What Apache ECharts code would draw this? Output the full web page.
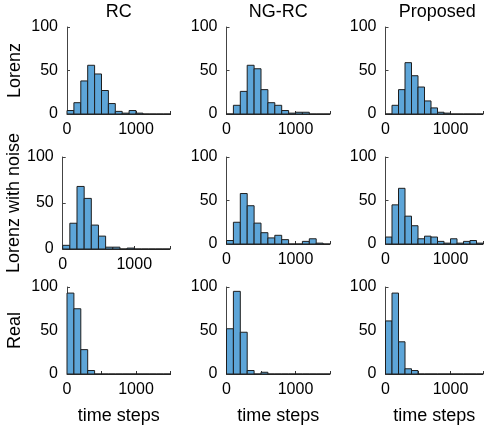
<!DOCTYPE html>
<html><head><meta charset="utf-8">
<script src="https://cdn.jsdelivr.net/npm/echarts@6/dist/echarts.min.js"></script>
<style>html,body{margin:0;padding:0;background:#fff}#c{width:486px;height:435px}</style>
</head><body><div id="c"></div>
<script>
// ---- data ----
const binEdges = [0,100,200,300,400,500,600,700,800,900,1000,1100,1200,1300,1400,1500];
const methods = ['RC', 'NG-RC', 'Proposed'];
const systems = ['Lorenz', 'Lorenz with noise', 'Real'];
const xLabel = 'time steps';
const xTickLabels = [0, 1000];
const yTickValues = [0, 50, 100];

const rcLorenz        = [4, 13, 38, 56, 46, 27, 12, 3, 1, 4, 1, 0, 0, 0, 0];
const ngrcLorenz      = [0, 10, 26, 56, 52, 28, 13, 10, 4, 1, 2, 2, 0, 0, 0];
const propLorenz      = [0, 10, 28, 59, 44, 31, 15, 7, 2, 1, 0, 0, 0, 0, 0];
const rcNoise         = [4, 28, 68, 55, 26, 14, 2, 2, 0, 1, 0, 0, 0, 0, 0];
const ngrcNoise       = [4, 25, 58, 44, 24, 13, 7, 10, 5, 0, 0, 3, 6, 1, 0];
const propNoise       = [8, 45, 64, 32, 21, 6, 9, 8, 3, 1, 6, 1, 3, 4, 1];
const rcReal          = [93, 75, 28, 4, 0, 0, 0, 0, 0, 0, 0, 0, 0, 0, 0];
const ngrcReal        = [52, 95, 48, 4, 0, 2, 0, 0, 0, 0, 0, 0, 0, 0, 0];
const propReal        = [61, 93, 37, 6, 4, 0, 0, 0, 0, 0, 0, 0, 0, 0, 0];

const panels = [
  [rcLorenz, ngrcLorenz, propLorenz],
  [rcNoise, ngrcNoise, propNoise],
  [rcReal, ngrcReal, propReal]
];

// ---- layout ----
const colLeft = [67, 226.5, 385.5];
const rowTop = [27, 157, 287];
const W = 103.5, H = 87;
const FONT = 'Liberation Sans, Arial, Helvetica, sans-serif';
const FILL = '#5da5d8';

const chart = echarts.init(document.getElementById('c'), null, {renderer: 'canvas'});

function renderItem(params, api) {
  const x0 = api.value(0), x1 = api.value(1), y = api.value(2);
  const p0 = api.coord([x0, 0]);
  const p1 = api.coord([x1, y]);
  return {
    type: 'rect',
    shape: {x: p0[0], y: p1[1], width: p1[0] - p0[0], height: p0[1] - p1[1]},
    style: {fill: FILL, stroke: '#1e1e1e', lineWidth: 1}
  };
}

const grids = [], xAxes = [], yAxes = [], series = [], graphics = [];
for (let r = 0; r < 3; r++) {
  for (let c = 0; c < 3; c++) {
    let g = {left: colLeft[c], top: rowTop[r], width: W, height: H};
    if (r === 1 && c === 0) g = {left: 62.7, top: 157, width: 107.3, height: 92};
    grids.push(g);
    const idx = grids.length - 1;
    xAxes.push({
      type: 'value', gridIndex: idx, min: binEdges[0], max: binEdges[binEdges.length - 1], interval: 500,
      axisLine: {show: true, lineStyle: {color: '#333', width: 1}},
      axisTick: {show: true, inside: true, length: 3, lineStyle: {color: '#333'}},
      axisLabel: {
        fontSize: 16, fontFamily: FONT, color: '#000', margin: 8,
        formatter: v => xTickLabels.includes(v) ? String(v) : ''
      },
      splitLine: {show: false},
      name: r === 2 ? xLabel : '',
      nameLocation: 'middle', nameGap: 33,
      nameTextStyle: {fontSize: 18, fontFamily: FONT, color: '#000'}
    });
    yAxes.push({
      type: 'value', gridIndex: idx, min: yTickValues[0], max: yTickValues[yTickValues.length - 1], interval: 50,
      axisLine: {show: true, lineStyle: {color: '#444', width: 1}},
      axisTick: {show: true, inside: true, length: 3, lineStyle: {color: '#444'}},
      axisLabel: {fontSize: 16, fontFamily: FONT, color: '#000', margin: 9},
      splitLine: {show: false},
      name: c === 0 ? systems[r] : '',
      nameLocation: 'middle', nameRotate: 90, nameGap: (r === 1 ? 38 : 43),
      nameTextStyle: {fontSize: 18, fontFamily: FONT, color: '#000'}
    });
    const vals = panels[r][c];
    series.push({
      type: 'custom', xAxisIndex: idx, yAxisIndex: idx,
      renderItem: renderItem,
      data: vals.map((v, i) => [binEdges[i], binEdges[i + 1], v]),
      encode: {x: [0, 1], y: 2},
      clip: false, silent: true, animation: false
    });
  }
}
for (let c = 0; c < 3; c++) {
  graphics.push({
    type: 'text', x: colLeft[c] + W / 2, y: 12,
    style: {text: methods[c], align: 'center', verticalAlign: 'middle', textAlign: 'center', textVerticalAlign: 'middle',
      fontSize: 18, fontFamily: FONT, fill: '#000'}
  });
}

chart.setOption({
  animation: false,
  backgroundColor: '#fff',
  grid: grids, xAxis: xAxes, yAxis: yAxes, series: series, graphic: graphics
});
</script></body></html>
